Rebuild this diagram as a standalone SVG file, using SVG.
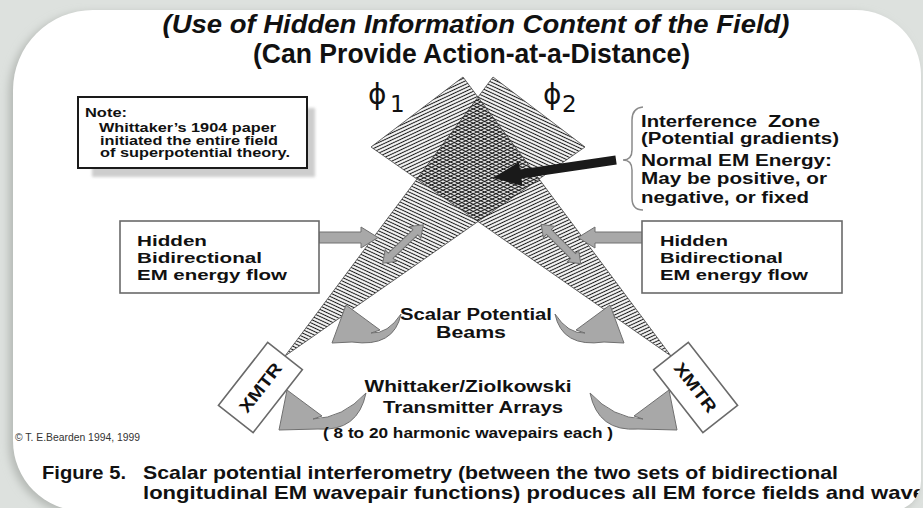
<svg xmlns="http://www.w3.org/2000/svg" width="923" height="508" viewBox="0 0 923 508">
<defs>
<style>
.t{font-family:"Liberation Sans",Arial,sans-serif;font-weight:bold;fill:#111}
.n{font-family:"Liberation Sans Narrow","Liberation Sans",Arial,sans-serif;font-weight:bold;fill:#111}
.phi{font-family:"DejaVu Sans",sans-serif;fill:#111}
.box{fill:#fff;stroke:#6a6a6a;stroke-width:1.6}
.garrow{fill:#a8a8a8;stroke:#707070;stroke-width:1}
.beam{stroke:#444;stroke-width:0.8}
</style>
<pattern id="hL" width="10" height="3.2" patternUnits="userSpaceOnUse" patternTransform="rotate(25)">
<line x1="0" y1="1.2" x2="10" y2="1.2" stroke="#1a1a1a" stroke-width="1.1"/>
</pattern>
<pattern id="hR" width="10" height="3.2" patternUnits="userSpaceOnUse" patternTransform="rotate(-25)">
<line x1="0" y1="1.2" x2="10" y2="1.2" stroke="#1a1a1a" stroke-width="1.1"/>
</pattern>
<path id="panelShape" d="M93,10 H856 A65,65 0 0 1 921,75 V481 A30,30 0 0 1 891,511 H83 A70,70 0 0 1 13,441 V90 A80,80 0 0 1 93,10 Z"/>
<clipPath id="panel"><use href="#panelShape"/></clipPath>
<filter id="sh" x="-5%" y="-5%" width="110%" height="110%"><feGaussianBlur stdDeviation="4"/></filter>
<filter id="sh2" x="-10%" y="-10%" width="120%" height="120%"><feGaussianBlur stdDeviation="1.5"/></filter>
<polygon id="dbl" points="-28,0 -17,-8 -17,-3.5 17,-3.5 17,-8 28,0 17,8 17,3.5 -17,3.5 -17,8"/>
</defs>
<rect width="923" height="508" fill="#dde1de"/>
<use href="#panelShape" fill="#b4b8b4" filter="url(#sh)" transform="translate(-4,3)"/>
<use href="#panelShape" fill="#fff"/>
<g clip-path="url(#panel)">
<text class="t" x="476" y="33" text-anchor="middle" font-size="26" font-style="italic" textLength="627" lengthAdjust="spacingAndGlyphs">(Use of Hidden Information Content of the Field)</text>
<text class="t" x="471.5" y="63" text-anchor="middle" font-size="27" textLength="437" lengthAdjust="spacingAndGlyphs">(Can Provide Action-at-a-Distance)</text>

<g id="beams">
<polygon id="beam-left" class="beam" points="285,356 493,77 585,147" fill="url(#hL)"/>
<polygon id="beam-right" class="beam" points="671,356 463,77 371,147" fill="url(#hR)"/>
</g>

<g id="phi1"><text class="phi" x="368" y="104" font-size="28">ϕ</text><text class="phi" x="390" y="112" font-size="23">1</text></g>
<g id="phi2"><text class="phi" x="543" y="104" font-size="28">ϕ</text><text class="phi" x="562" y="112" font-size="23">2</text></g>

<g id="connectors">
<use href="#dbl" class="garrow" transform="translate(403,244) rotate(-43.5)"/>
<use href="#dbl" class="garrow" transform="translate(561,244) rotate(45)"/>
<polygon class="garrow" points="319,232 361,232 361,227 378,237.5 361,248 361,243 319,243"/>
<polygon class="garrow" points="643,232 595,232 595,227 578,237.5 595,248 595,243 643,243"/>
<polygon fill="#1a1a1a" points="615.4,155.6 520,169.6 519,162.1 493,178 522.4,185.9 521.4,178.5 616.7,164.5"/>
<path d="M643,107 Q632,108 632,120 L632,150 Q632,160 623,160 Q632,160 632,170 L632,198 Q632,210 643,210" fill="none" stroke="#8a8a8a" stroke-width="1.5"/>
<path class="garrow" d="M346,305 L380,330 L371,333 Q388,334 401,314 Q394,348 352,342 L332,343 Z"/>
<path class="garrow" d="M610,305 L576,330 L585,333 Q568,334 555,314 Q562,348 604,342 L624,343 Z"/>
<path class="garrow" d="M287,390 L322,416 L313,419 Q343,418 366,393 Q358,432 318,429 L279,430 Z"/>
<path class="garrow" d="M669,390 L634,416 L643,419 Q613,418 590,393 Q598,432 638,429 L677,430 Z"/>
</g>

<g id="note">
<rect x="92" y="108" width="223" height="69" fill="#cdcdcd" filter="url(#sh2)"/>
<rect x="78" y="97" width="229" height="71" fill="#fff" stroke="#1a1a1a" stroke-width="2"/>
<text class="t" x="85" y="117" font-size="12" textLength="42" lengthAdjust="spacingAndGlyphs">Note:</text>
<text class="t" x="99" y="132" font-size="12" textLength="177" lengthAdjust="spacingAndGlyphs">Whittaker’s 1904 paper</text>
<text class="t" x="100" y="144.5" font-size="12" textLength="178" lengthAdjust="spacingAndGlyphs">initiated the entire field</text>
<text class="t" x="100" y="157" font-size="12" textLength="190" lengthAdjust="spacingAndGlyphs">of superpotential theory.</text>
</g>

<g id="interference">
<text class="t" x="641" y="127" font-size="16" textLength="116" lengthAdjust="spacingAndGlyphs">Interference</text>
<text class="t" x="768" y="127" font-size="16" textLength="52" lengthAdjust="spacingAndGlyphs">Zone</text>
<text class="t" x="641" y="144" font-size="16" textLength="198" lengthAdjust="spacingAndGlyphs">(Potential gradients)</text>
<text class="t" x="641" y="166" font-size="16" textLength="191" lengthAdjust="spacingAndGlyphs">Normal EM Energy:</text>
<text class="t" x="641" y="184" font-size="16" textLength="186" lengthAdjust="spacingAndGlyphs">May be positive, or</text>
<text class="t" x="641" y="203" font-size="16" textLength="168" lengthAdjust="spacingAndGlyphs">negative, or fixed</text>
</g>

<g id="hidden-left">
<rect class="box" x="120" y="221" width="199" height="72"/>
<text class="t" x="137" y="246" font-size="15.5" textLength="70" lengthAdjust="spacingAndGlyphs">Hidden</text>
<text class="t" x="137" y="263" font-size="15.5" textLength="125" lengthAdjust="spacingAndGlyphs">Bidirectional</text>
<text class="t" x="137" y="280" font-size="15.5" textLength="150" lengthAdjust="spacingAndGlyphs">EM energy flow</text>
</g>
<g id="hidden-right">
<rect class="box" x="642" y="221" width="200" height="72"/>
<text class="t" x="660" y="246" font-size="15.5" textLength="68" lengthAdjust="spacingAndGlyphs">Hidden</text>
<text class="t" x="660" y="263" font-size="15.5" textLength="123" lengthAdjust="spacingAndGlyphs">Bidirectional</text>
<text class="t" x="660" y="280" font-size="15.5" textLength="148" lengthAdjust="spacingAndGlyphs">EM energy flow</text>
</g>

<g id="scalar-label">
<text class="t" x="476" y="320" text-anchor="middle" font-size="16" textLength="152" lengthAdjust="spacingAndGlyphs">Scalar Potential</text>
<text class="t" x="471" y="338" text-anchor="middle" font-size="16" textLength="70" lengthAdjust="spacingAndGlyphs">Beams</text>
</g>

<g id="xmtr-left">
<rect class="box" x="-40" y="-22" width="80" height="44" transform="translate(260.4,387.5) rotate(-52)" stroke="#444"/>
<text class="t" x="0" y="6" text-anchor="middle" font-size="17" textLength="58" lengthAdjust="spacingAndGlyphs" transform="translate(260.4,387.5) rotate(-52)">XMTR</text>
</g>
<g id="xmtr-right">
<rect class="box" x="-40" y="-22" width="80" height="44" transform="translate(695.6,387.5) rotate(52)" stroke="#444"/>
<text class="t" x="0" y="6" text-anchor="middle" font-size="17" textLength="58" lengthAdjust="spacingAndGlyphs" transform="translate(695.6,387.5) rotate(52)">XMTR</text>
</g>

<g id="transmitter-label">
<text class="t" x="468" y="392" text-anchor="middle" font-size="17" textLength="207" lengthAdjust="spacingAndGlyphs">Whittaker/Ziolkowski</text>
<text class="t" x="473" y="413" text-anchor="middle" font-size="17" textLength="180" lengthAdjust="spacingAndGlyphs">Transmitter Arrays</text>
<text class="t" x="468" y="438" text-anchor="middle" font-size="14" textLength="290" lengthAdjust="spacingAndGlyphs">( 8 to 20 harmonic wavepairs each )</text>
</g>

<text class="n" x="15" y="441" font-size="11.5" textLength="125" lengthAdjust="spacingAndGlyphs" style="font-weight:normal;fill:#333">© T. E.Bearden 1994, 1999</text>

<g id="caption">
<text class="n" x="42" y="479" font-size="18.5" textLength="84" lengthAdjust="spacingAndGlyphs">Figure 5.</text>
<text class="n" x="143" y="479" font-size="18.5" textLength="695" lengthAdjust="spacingAndGlyphs">Scalar potential interferometry (between the two sets of bidirectional</text>
<text class="n" x="143" y="499" font-size="18.5" textLength="782" lengthAdjust="spacingAndGlyphs">longitudinal EM wavepair functions) produces all EM force fields and wave</text>
</g>
</g>
</svg>
